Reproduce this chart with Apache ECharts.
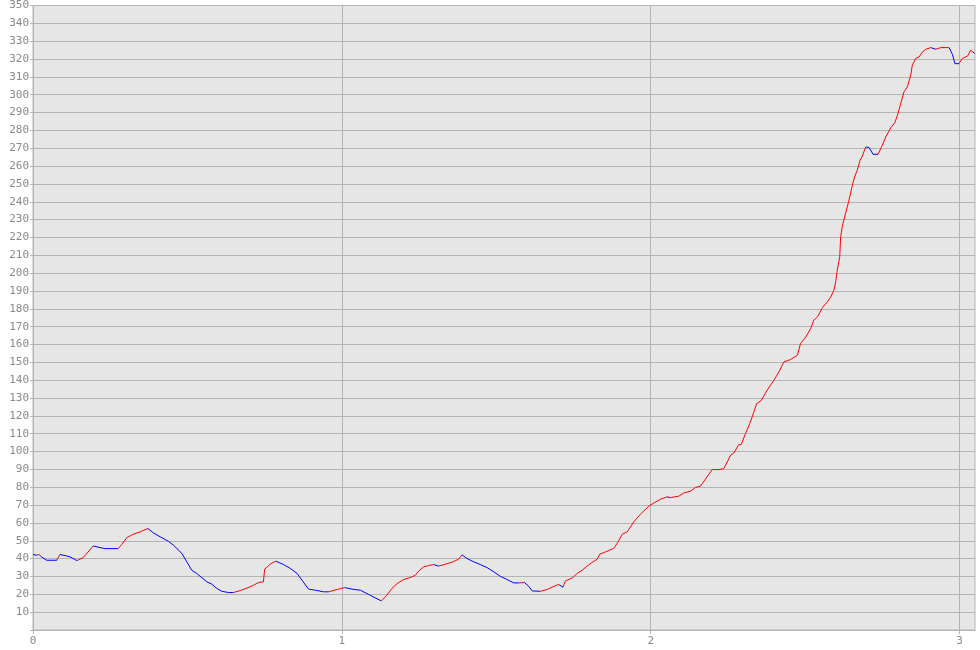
<!DOCTYPE html>
<html>
<head>
<meta charset="utf-8">
<script src="https://cdn.jsdelivr.net/npm/echarts@6/dist/echarts.min.js"></script>
<style>html,body{margin:0;padding:0;background:#fff}#c{width:980px;height:650px}</style>
</head>
<body>
<div id="c"></div>
<script>
// x positions (data units) of the trace points
var xValues = [0,0.012,0.020,0.027,0.044,0.077,0.087,0.104,0.120,0.142,0.163,0.195,0.217,0.233,0.276,0.287,0.304,0.325,0.347,0.372,
0.390,0.412,0.438,0.455,0.482,0.498,0.514,0.530,0.563,0.579,0.595,0.611,0.633,0.649,0.671,0.692,0.714,0.730,0.746,0.750,
0.768,0.786,0.811,0.833,0.855,0.871,0.892,0.914,0.941,0.957,0.989,1.009,1.033,1.060,1.087,1.108,1.128,1.146,1.162,1.179,
1.200,1.222,1.238,1.249,1.265,1.281,1.297,1.313,1.335,1.357,1.378,1.389,1.405,1.427,1.448,1.470,1.492,1.513,1.535,1.556,
1.573,1.591,1.605,1.616,1.643,1.665,1.692,1.702,1.716,1.724,1.746,1.762,1.778,1.794,1.810,1.827,1.835,1.854,1.880,1.893,
1.908,1.924,1.945,1.967,1.994,2.010,2.032,2.053,2.064,2.091,2.107,2.129,2.145,2.161,2.199,2.221,2.237,2.259,2.269,2.285,
2.293,2.307,2.323,2.343,2.358,2.377,2.399,2.415,2.431,2.453,2.475,2.485,2.502,2.518,2.528,2.540,2.556,2.572,2.583,2.593,
2.599,2.604,2.612,2.615,2.621,2.628,2.642,2.653,2.660,2.669,2.678,2.685,2.691,2.696,2.707,2.720,2.736,2.750,2.761,2.777,
2.790,2.799,2.809,2.820,2.831,2.842,2.847,2.858,2.869,2.880,2.891,2.907,2.923,2.939,2.966,2.977,2.985,2.998,3.009,3.026,
3.036,3.042,3.049,3.05];
// y values of the trace
var yValues = [42.3,41.9,42.3,41.0,39.1,39.1,42.3,41.7,41.0,38.9,40.6,47.1,46.2,45.6,45.6,47.9,51.8,53.7,55.0,56.9,
54.4,52.2,49.8,47.5,42.9,38.2,33.5,31.7,27.0,25.7,23.3,21.7,21.0,21.0,22.1,23.4,25.1,26.6,27.0,34.0,
36.9,38.6,36.7,34.5,31.7,27.9,22.9,22.3,21.4,21.4,22.9,23.8,22.9,22.3,19.9,18.0,16.3,19.5,23.3,26.0,
28.3,29.4,30.7,33.1,35.4,36.1,36.7,35.8,36.9,38.0,39.7,42.1,40.1,38.2,36.7,35.0,32.6,30.1,28.3,26.4,
26.4,26.6,24.5,21.9,21.7,22.7,24.9,25.5,24.0,27.5,29.2,31.7,33.5,35.8,37.8,39.7,42.5,43.8,45.7,49.0,
53.7,55.0,60.6,64.9,69.4,71.2,73.3,74.6,74.2,75.0,76.8,77.8,79.9,80.6,89.9,89.9,90.5,98.0,99.2,103.9,
103.9,110.1,116.6,126.9,128.6,134.4,140.0,144.6,150.2,151.6,154.0,160.5,164.2,169.0,173.6,175.5,180.7,183.9,186.7,190.4,
195.1,201.6,209.1,220.3,226.8,231.5,240.9,249.3,253.9,257.7,263.3,265.5,266.1,270.7,270.4,266.6,266.6,271.7,276.3,281.4,
284.2,288.5,294.7,301.6,304.4,311.0,316.5,320.3,321.2,324.0,325.5,326.4,325.5,326.4,326.4,322.6,317.4,317.4,320.3,321.7,
324.9,325.9,323.1,323.1];
var xTicks = [0, 1, 2, 3];
var xMax = 3.05;
var yMax = 350, yStep = 10;

var UP = '#ff0000', DOWN = '#0000ff';
var data = xValues.map(function (x, i) { return [x, yValues[i]]; });
var pieces = [];
var prev = DOWN;
for (var i = 0; i < data.length - 1; i++) {
  var c = data[i + 1][1] > data[i][1] ? UP : (data[i + 1][1] < data[i][1] ? DOWN : prev);
  prev = c;
  var p = { gte: data[i][0], color: c };
  if (i < data.length - 2) p.lt = data[i + 1][0]; else p.lte = data[i + 1][0];
  pieces.push(p);
}

var chart = echarts.init(document.getElementById('c'), null, { renderer: 'canvas' });
var labelFont = { color: '#8a8a8a', fontFamily: 'DejaVu Sans Mono', fontSize: 11 };
chart.setOption({
  animation: false,
  backgroundColor: '#ffffff',
  grid: { left: 33, right: 5, top: 5, bottom: 20, show: true, backgroundColor: '#e6e6e6', borderColor: '#b4b4b4', borderWidth: 1 },
  xAxis: {
    type: 'value', min: 0, max: xMax, interval: 1,
    axisLine: { show: true, onZero: false, lineStyle: { color: '#b4b4b4' } },
    axisTick: { show: true, length: 4, customValues: xTicks, lineStyle: { color: '#b4b4b4' } },
    axisLabel: Object.assign({ margin: 6, customValues: xTicks, formatter: function (v) { return xTicks.indexOf(v) >= 0 ? String(v) : ''; } }, labelFont),
    splitLine: { show: true, lineStyle: { color: '#b4b4b4', width: 1 } }
  },
  yAxis: {
    type: 'value', min: 0, max: yMax, interval: yStep,
    axisLine: { show: true, onZero: false, lineStyle: { color: '#b4b4b4' } },
    axisTick: { show: true, length: 3, lineStyle: { color: '#b4b4b4' } },
    axisLabel: Object.assign({ margin: 4, formatter: function (v) { return v === 0 ? '' : String(v); } }, labelFont),
    splitLine: { show: true, lineStyle: { color: '#b4b4b4', width: 1 } }
  },
  visualMap: { show: false, type: 'piecewise', dimension: 0, seriesIndex: 0, pieces: pieces, outOfRange: { color: UP } },
  series: [{
    type: 'line', data: data, showSymbol: false, symbol: 'none',
    lineStyle: { width: 1 }, silent: true
  }]
});
</script>
</body>
</html>
